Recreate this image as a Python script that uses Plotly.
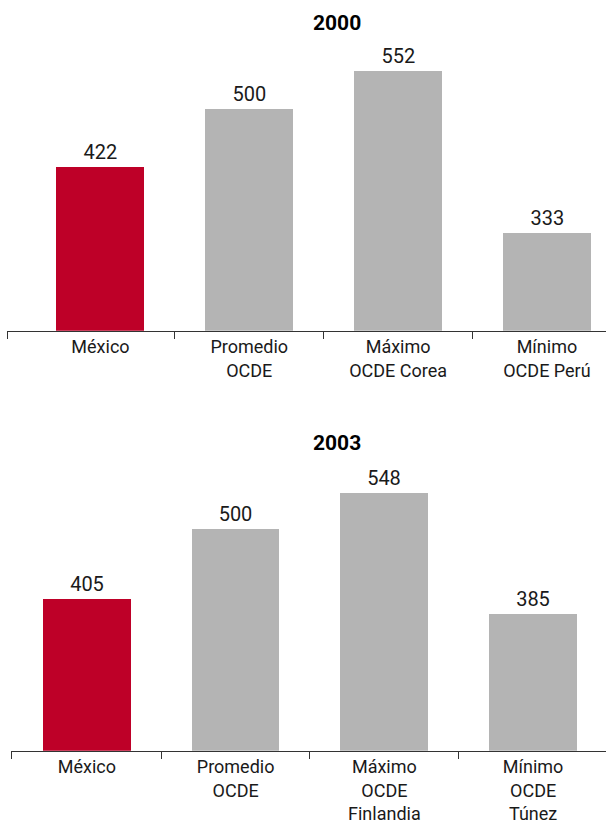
import plotly.graph_objects as go

# ---- data ----
years = ["2000", "2003"]
categories_2000 = ["México", "Promedio<br>OCDE", "Máximo<br>OCDE Corea", "Mínimo<br>OCDE Perú"]
values_2000 = [422, 500, 552, 333]
categories_2003 = ["México", "Promedio<br>OCDE", "Máximo<br>OCDE<br>Finlandia", "Mínimo<br>OCDE<br>Túnez"]
values_2003 = [405, 500, 548, 385]
bar_colors = ["#BE0028", "#B4B4B4", "#B4B4B4", "#B4B4B4"]

W, H = 606, 824
FONT = "Roboto, 'DejaVu Sans', sans-serif"
AXIS_COLOR = "#333333"
Y_RANGE = [200, 600]

panels = [
    dict(cats=categories_2000, vals=values_2000, xrange=[-0.626, 3.397],
         xdomain=[7.3 / W, 1], ydomain=[1 - 330.7 / H, 1 - 34.7 / H],
         title_y=1 - 23 / H),
    dict(cats=categories_2003, vals=values_2003, xrange=[-0.51, 3.49],
         xdomain=[11 / W, 1], ydomain=[1 - 750.7 / H, 1 - 454.7 / H],
         title_y=1 - 443 / H),
]

fig = go.Figure()
annotations = []
for i, (p, yr) in enumerate(zip(panels, years)):
    suffix = "" if i == 0 else str(i + 1)
    idx = list(range(len(p["cats"])))
    fig.add_trace(go.Bar(
        x=idx, y=p["vals"], width=0.59,
        marker=dict(color=bar_colors, line=dict(width=0)),
        texttemplate="%{y}", textposition="outside", cliponaxis=False,
        textfont=dict(family=FONT, size=20, color="#1a1a1a"),
        xaxis="x" + suffix, yaxis="y" + suffix,
        showlegend=False, hoverinfo="skip",
    ))
    boundaries = [p["xrange"][0] + 0.004] + [k + 0.5 for k in idx[:-1]]
    fig.layout["xaxis" + suffix] = dict(
        domain=p["xdomain"], range=p["xrange"], anchor="y" + suffix,
        tickmode="array", tickvals=idx, ticktext=p["cats"], ticks="",
        showline=True, linecolor=AXIS_COLOR, linewidth=1.3,
        showgrid=False, zeroline=False, fixedrange=True,
        tickfont=dict(family=FONT, size=18, color="#1a1a1a"),
        minor=dict(tickmode="array", tickvals=boundaries, ticks="outside",
                   ticklen=7, tickwidth=1.3, tickcolor=AXIS_COLOR, showgrid=False),
    )
    fig.layout["yaxis" + suffix] = dict(
        domain=p["ydomain"], range=Y_RANGE, anchor="x" + suffix,
        visible=False, showgrid=False, zeroline=False, fixedrange=True,
    )
    annotations.append(dict(
        text="<b>" + yr + "</b>", xref="paper", yref="paper",
        x=336.7 / W, y=p["title_y"], xanchor="center", yanchor="middle",
        showarrow=False, font=dict(family=FONT, size=21, color="#000000", weight=900),
    ))

fig.update_layout(
    width=W, height=H,
    margin=dict(l=0, r=0, t=0, b=0),
    paper_bgcolor="white", plot_bgcolor="white",
    annotations=annotations,
    bargap=0,
)

fig.write_html(
    "out.html",
    config={"displayModeBar": False},
    post_script="document.body.style.margin='0';document.body.style.overflow='hidden';",
)
